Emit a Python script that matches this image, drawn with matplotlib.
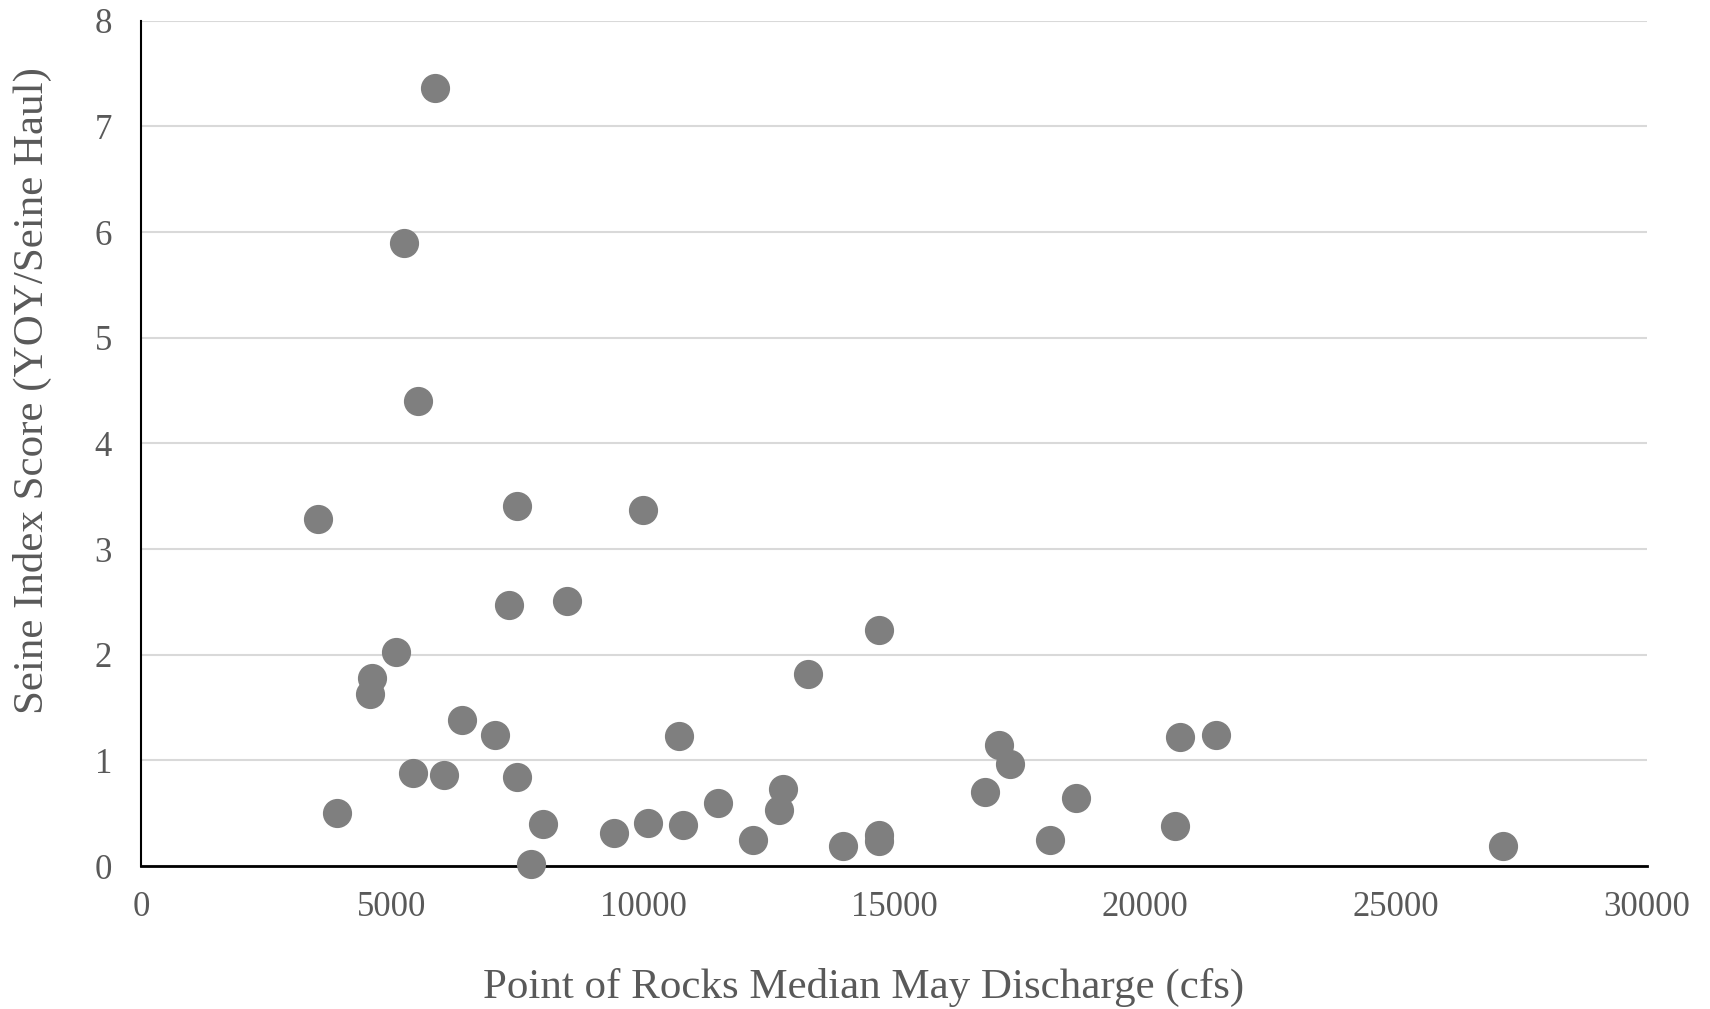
import matplotlib.pyplot as plt

# caudal mediano de mayo (cfs) y puntaje del indice
discharge = [5866, 5236, 5518, 3519, 7495, 9993, 7321, 8494, 14708, 5084,
             4606, 4562, 13296, 6387, 7061, 10711, 17098, 17315, 20704, 21421,
             5410, 6040, 7495, 3911, 8017, 7778, 9429, 10102, 10797, 11492,
             12188, 12709, 12796, 13991, 14708, 14708, 16815, 18623, 18119,
             20595, 27134]
score = [7.36, 5.90, 4.40, 3.28, 3.41, 3.37, 2.47, 2.51, 2.23, 2.03,
         1.78, 1.63, 1.82, 1.38, 1.24, 1.23, 1.15, 0.97, 1.22, 1.24,
         0.88, 0.86, 0.84, 0.50, 0.40, 0.02, 0.31, 0.41, 0.39, 0.60,
         0.25, 0.53, 0.73, 0.19, 0.29, 0.24, 0.70, 0.64, 0.25,
         0.38, 0.19]

xticks = [0, 5000, 10000, 15000, 20000, 25000, 30000]
yticks = [0, 1, 2, 3, 4, 5, 6, 7, 8]

plt.rcParams['font.family'] = ['Liberation Serif', 'DejaVu Serif']

fig = plt.figure(figsize=(17.1, 10.09), dpi=100)
ax = fig.add_axes([0.0825, 0.1417, 0.8805, 0.8378])

ax.scatter(discharge, score, s=400, color='#7f7f7f', zorder=3, clip_on=False)

ax.set_xlim(0, 30000)
ax.set_ylim(0, 8)
ax.set_xticks(xticks)
ax.set_yticks(yticks)
ax.grid(axis='y', color='#d9d9d9', linewidth=1.5)
ax.set_axisbelow(True)

for s in ['top', 'right']:
    ax.spines[s].set_visible(False)
ax.spines['left'].set_linewidth(1.5)
ax.spines['bottom'].set_linewidth(2)

ax.tick_params(length=0, labelsize=25, labelcolor='#595959')
ax.tick_params(axis='x', pad=18)
ax.tick_params(axis='y', pad=21)

ax.set_xlabel("Point of Rocks Median May Discharge (cfs)", fontsize=31,
              color='#595959', va='center')
ax.set_ylabel("Seine Index Score (YOY/Seine Haul)", fontsize=31,
              color='#595959', va='center')
ax.xaxis.set_label_coords(0.4797, -0.1432)
ax.yaxis.set_label_coords(-0.072, 0.5626)

plt.savefig("out.png")
